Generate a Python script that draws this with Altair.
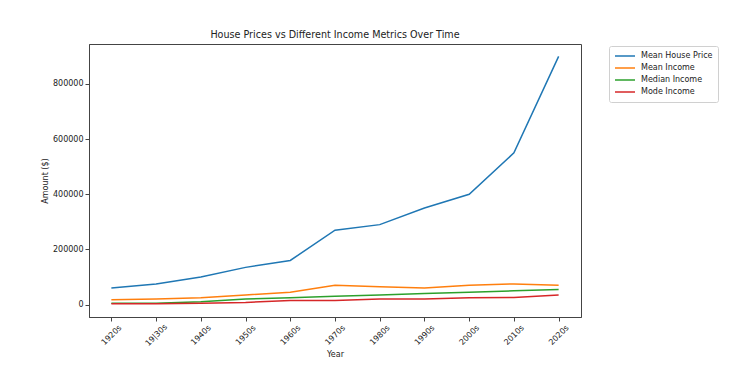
import altair as alt
import pandas as pd

decades = ["1920s", "19|30s", "1940s", "1950s", "1960s", "1970s",
           "1980s", "1990s", "2000s", "2010s", "2020s"]
mean_house_price = [60000, 75000, 100000, 135000, 160000, 270000,
                    290000, 350000, 400000, 550000, 900000]
mean_income = [18000, 20000, 25000, 35000, 45000, 70000,
               65000, 60000, 70000, 75000, 70000]
median_income = [5000, 5000, 10000, 20000, 25000, 30000,
                 35000, 40000, 45000, 50000, 55000]
mode_income = [3000, 3000, 5000, 8000, 15000, 15000,
               20000, 20000, 25000, 26000, 35000]

series_names = ["Mean House Price", "Mean Income", "Median Income", "Mode Income"]
series_values = [mean_house_price, mean_income, median_income, mode_income]
colors = ["#1f77b4", "#ff7f0e", "#2ca02c", "#d62728"]

rows = []
for name, vals in zip(series_names, series_values):
    for d, v in zip(decades, vals):
        rows.append({"Year": d, "Series": name, "Value": v})
df = pd.DataFrame(rows)

FONT = "DejaVu Sans"

chart = alt.Chart(df).mark_line(strokeWidth=1.5).encode(
    x=alt.X("Year:N", sort=decades,
            scale=alt.Scale(type="point", padding=0.5),
            axis=alt.Axis(title="Year", labelAngle=-45, labelAlign="center",
                          labelBaseline="middle", labelPadding=14, tickSize=4,
                          titlePadding=3, grid=False)),
    y=alt.Y("Value:Q", scale=alt.Scale(domain=[-45000, 945000], nice=False, zero=False),
            axis=alt.Axis(title="Amount ($)", values=[0, 200000, 400000, 600000, 800000],
                          format="d", tickSize=4, labelPadding=2, grid=False,
                          titlePadding=3)),
    color=alt.Color("Series:N", scale=alt.Scale(domain=series_names, range=colors),
                    sort=series_names,
                    legend=alt.Legend(title=None, orient="none", legendX=520, legendY=2,
                                      symbolType="stroke", symbolStrokeWidth=1.5,
                                      symbolSize=400, clipHeight=10,
                                      strokeColor="#d0d0d0",
                                      padding=5, cornerRadius=2, rowPadding=2,
                                      labelFontSize=8, labelFont=FONT, labelOffset=5,
                                      labelColor="#222", fillColor="white")),
).properties(
    width=492, height=273,
    title=alt.TitleParams("House Prices vs Different Income Metrics Over Time",
                          fontSize=9.6, font=FONT, fontWeight="normal",
                          color="#222", offset=4),
    autosize=alt.AutoSizeParams(type="none"),
    padding={"left": 89, "top": 44, "right": 173, "bottom": 58},
).configure(
    background="white"
).configure_view(
    stroke="#444", strokeWidth=1
).configure_axis(
    labelFont=FONT, titleFont=FONT, labelFontSize=8, titleFontSize=8,
    titleFontWeight="normal", labelColor="#222", titleColor="#222",
    domainColor="#444", tickColor="#444"
)

chart.save("out.html", embed_options={"renderer": "svg", "actions": False})
